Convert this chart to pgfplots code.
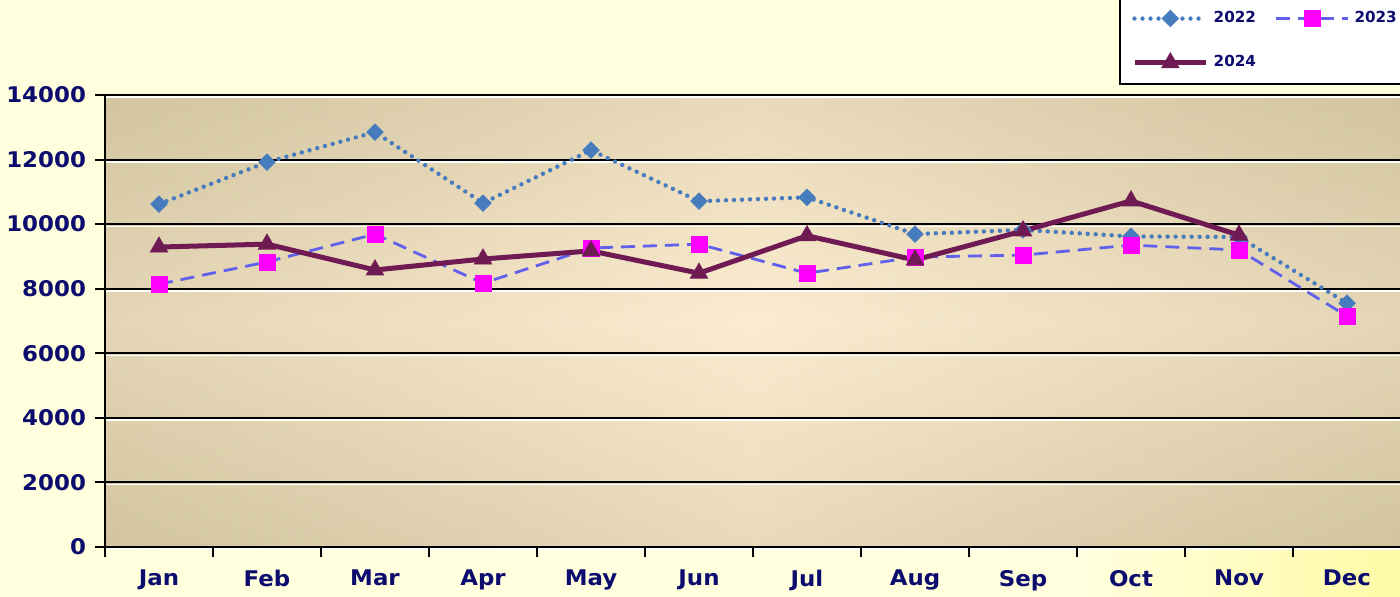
\documentclass[border=0pt]{standalone}
\usepackage{fontspec}
\setmainfont{DejaVu Sans}
\usepackage{pgfplots}
\pgfplotsset{compat=1.18}
\definecolor{navy}{RGB}{12,12,110}
\definecolor{c22}{RGB}{70,124,190}
\definecolor{c23}{RGB}{96,96,235}
\definecolor{c24}{RGB}{112,26,84}
\definecolor{mag}{RGB}{255,0,255}
\definecolor{outerbg}{RGB}{255,255,222}
\definecolor{glow}{RGB}{255,250,165}
\definecolor{tanE}{RGB}{210,197,160}
\definecolor{tanC}{RGB}{251,236,208}
\newfontfamily\wide[FakeStretch=1.06]{DejaVu Sans}
\begin{document}
\begin{tikzpicture}
\clip (0pt,0pt) rectangle (700pt,298.5pt);
\fill[outerbg] (0pt,0pt) rectangle (700pt,298.5pt);
\shade[left color=outerbg, right color=glow] (540pt,0pt) rectangle (700.5pt,26pt);
\begin{axis}[
 at={(52.5pt,25pt)}, anchor=south west,
 scale only axis, width=648pt, height=226pt,
 xmin=-0.5, xmax=11.5, ymin=0, ymax=14000,
 xtick={-0.5,0.5,...,11.5},
 x tick label as interval,
 xticklabels={Jan,Feb,Mar,Apr,May,Jun,Jul,Aug,Sep,Oct,Nov,Dec},
 ytick={0,2000,...,14000},
 scaled y ticks=false,
 ymajorgrids, major grid style={black, line width=1pt, preaction={draw=white, line width=0.8pt, transform canvas={yshift=-1.1pt}}},
 axis x line*=bottom, axis y line*=left,
 tick align=outside, major tick length=5pt, tick style={black, line width=1pt},
 axis line style={black, line width=1pt},
 /pgf/number format/assume math mode=true,
 /pgf/number format/1000 sep={},
 ticklabel style={font=\wide\bfseries\fontsize{10.8}{12}\selectfont, text=navy},
 xticklabel style={yshift=-3pt},
 yticklabel style={xshift=-1pt},
 axis background/.style={shade, left color=tanE, right color=tanE, middle color=tanC,
   postaction={shade, top color=tanE, bottom color=tanE, middle color=tanC, fill opacity=0.45}},
 legend columns=2,
 legend cell align=left,
 legend style={at={(rel axis cs:0.7824,1)}, anchor=south west, yshift=5pt,
   draw=black, line width=1pt, fill=white,
   font=\bfseries\fontsize{7.6}{9}\selectfont, text=navy,
   /tikz/column sep=0.5pt, /tikz/row sep=11pt, inner xsep=6pt, inner ysep=5pt,
   /tikz/every even column/.append style={column sep=7.5pt}},
 legend image code/.code={\draw[mark repeat=2, mark phase=2] plot coordinates {(0cm,0cm) (0.63cm,0cm) (1.26cm,0cm)};},
]
\addplot[c22, line width=2.2pt, dash pattern=on 0pt off 4pt, line cap=round,
  mark=square*, mark size=2.9pt, mark options={solid, rotate=45, fill=c22, draw=c22, line width=0.4pt}]
 coordinates {(0,10620) (1,11920) (2,12850) (3,10650) (4,12290) (5,10710) (6,10830) (7,9690) (8,9820) (9,9620) (10,9600) (11,7550)};
\addlegendentry{2022}
\addplot[c23, line width=1.4pt, dash pattern=on 7pt off 4pt,
  mark=square*, mark size=4pt, mark options={solid, fill=mag, draw=mag, line width=0.4pt}]
 coordinates {(0,8140) (1,8830) (2,9690) (3,8170) (4,9260) (5,9380) (6,8480) (7,8980) (8,9040) (9,9350) (10,9200) (11,7150)};
\addlegendentry{2023}
\addplot[c24, line width=2.5pt,
  mark=triangle*, mark size=5pt, mark options={solid, fill=c24, draw=c24, line width=0.4pt}]
 coordinates {(0,9290) (1,9380) (2,8580) (3,8920) (4,9170) (5,8480) (6,9640) (7,8890) (8,9790) (9,10720) (10,9660)};
\addlegendentry{2024}
\end{axis}
\end{tikzpicture}
\end{document}
